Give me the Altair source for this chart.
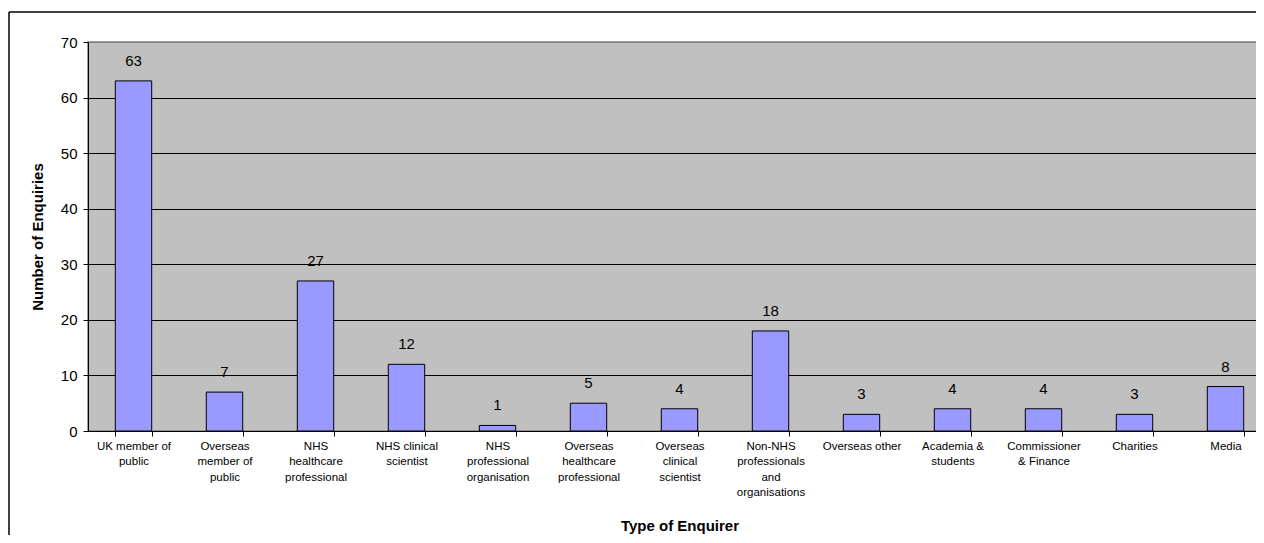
import altair as alt
import pandas as pd

categories = [
    "UK member of|public",
    "Overseas|member of|public",
    "NHS|healthcare|professional",
    "NHS clinical|scientist",
    "NHS|professional|organisation",
    "Overseas|healthcare|professional",
    "Overseas|clinical|scientist",
    "Non-NHS|professionals|and|organisations",
    "Overseas other",
    "Academia &|students",
    "Commissioner|& Finance",
    "Charities",
    "Media",
]
values = [63, 7, 27, 12, 1, 5, 4, 18, 3, 4, 4, 3, 8]

df = pd.DataFrame({"cat": categories, "val": values})

FONT = "Liberation Sans"
W, H = 1183, 389
PAD_LEFT = 80
SVG_W = 1248  # page width minus both body margins

x_enc = alt.X(
    "cat:N",
    sort=categories,
    scale=alt.Scale(paddingInner=0.6, paddingOuter=0.3),
    axis=alt.Axis(
        title="Type of Enquirer",
        labelAngle=0,
        labelExpr="split(datum.label, '|')",
        labelFont=FONT,
        labelFontSize=11.5,
        labelLineHeight=15.5,
        labelBaseline="top",
        labelLimit=200,
        labelColor="black",
        labelPadding=4,
        tickBand="extent",
        tickSize=5,
        tickColor="black",
        domainColor="black",
        titleFont=FONT,
        titleFontSize=15,
        titleFontWeight="bold",
        titleColor="black",
        titlePadding=20,
    ),
)
y_enc = alt.Y(
    "val:Q",
    scale=alt.Scale(domain=[0, 70]),
    axis=alt.Axis(
        title="Number of Enquiries",
        values=list(range(0, 71, 10)),
        labelFont=FONT,
        labelFontSize=15,
        labelColor="black",
        labelPadding=6,
        tickSize=5,
        tickColor="black",
        domainColor="black",
        grid=True,
        gridColor=alt.condition(alt.datum.value == 70, alt.value("#808080"), alt.value("black")),
        gridOpacity=1,
        titleFont=FONT,
        titleFontSize=15,
        titleFontWeight="bold",
        titleColor="black",
        titlePadding=15,
    ),
)

base = alt.Chart(df).encode(x=x_enc, y=y_enc)

bars = base.mark_bar(color="#9999FF", stroke="black", strokeWidth=1)
labels = base.mark_text(baseline="bottom", dy=-12, fontSize=15, font=FONT, color="black").encode(
    text="val:Q"
)

frame_data = alt.Data(values=[{"a": 1}])
frame_top = alt.Chart(frame_data).mark_rule(color="black", strokeWidth=1.5, clip=False).encode(
    x=alt.value(-79),
    x2=alt.value(W + 100),
    y=alt.value(-30),
)
frame_left = alt.Chart(frame_data).mark_rule(color="black", strokeWidth=1.5, clip=False).encode(
    x=alt.value(-79),
    y=alt.value(-30),
    y2=alt.value(H + 300),
)

chart = (
    alt.layer(bars, labels, frame_top, frame_left)
    .properties(
        width=W,
        height=H,
        autosize="none",
        padding={"left": PAD_LEFT, "top": 34, "right": SVG_W - PAD_LEFT - W, "bottom": 104},
    )
    .configure(font=FONT)
    .configure_view(fill="#C0C0C0", stroke="#808080", strokeWidth=1.5)
)

chart.save("out.html", embed_options={"renderer": "svg", "actions": False})
